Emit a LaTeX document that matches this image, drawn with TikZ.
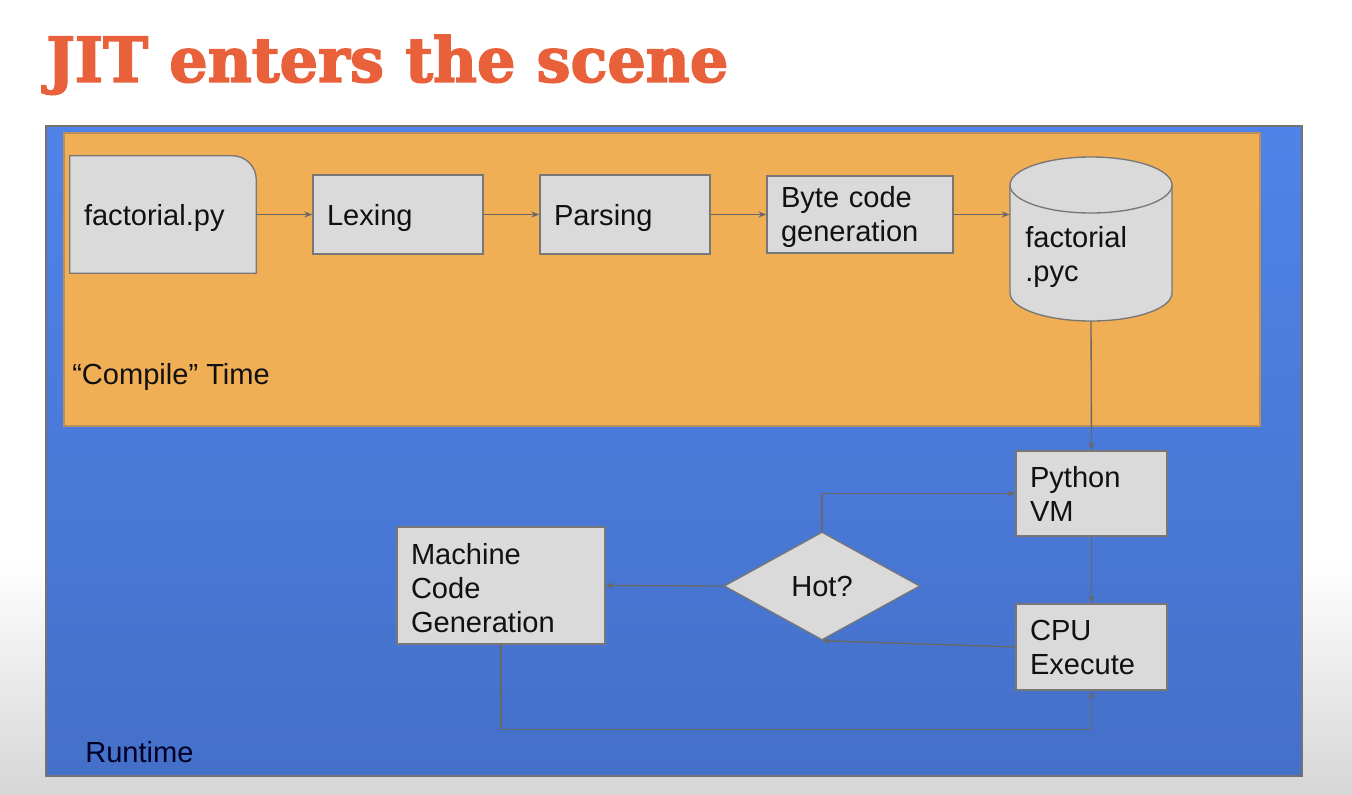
\documentclass[tikz,border=0pt]{standalone}
\usepackage{fontspec}
\setmainfont{Liberation Sans}
\newfontfamily\titlefont{DejaVu Serif}[FakeBold=2.5]
\usetikzlibrary{shapes.geometric,arrows.meta,calc}
\definecolor{titlered}{HTML}{E8613A}
\definecolor{blueA}{HTML}{5083E9}
\definecolor{blueB}{HTML}{4470C8}
\definecolor{orangebg}{HTML}{F0AE55}
\definecolor{orangeedge}{HTML}{B98F5C}
\definecolor{boxfill}{HTML}{DADADA}
\definecolor{boxedge}{HTML}{777777}
\definecolor{linegrey}{HTML}{686868}
\definecolor{ink}{HTML}{111111}
\newcommand\bodysize{\fontsize{21.8pt}{25.5pt}\selectfont}
% a taller first line pushes a text block slightly down in its box
\newcommand\tallstrut{\rule{0pt}{20pt}}
\begin{document}
\begin{tikzpicture}[x=0.75pt,y=-0.75pt,
  line/.style={draw=linegrey, line width=1pt},
  arr/.style={line, -{Stealth[length=6pt,width=4.5pt]}},
  box/.style={draw=boxedge, fill=boxfill, line width=1pt, inner xsep=10.5pt,
    inner ysep=0pt, align=left, font=\bodysize, text=ink},
  oneline/.style={text depth=0pt},
  lbl/.style={anchor=west, inner sep=0pt, font=\bodysize, text=ink, align=left}]

% page and frame
\useasboundingbox (0,0) rectangle (1352,794);
\fill[white] (0,0) rectangle (1352,794);
\shade[top color=white, bottom color=black!16] (0,560) rectangle (1352,794);

\node[anchor=south west, inner sep=0pt, text=titlered] (title) at (46,95)
  {\resizebox{511.5pt}{35.25pt}{\titlefont\bfseries JIT enters the scene}};

% runtime area
\shade[top color=blueA, middle color=blueA, bottom color=blueB] (46,126) rectangle (1302,776);
\draw[draw=black!55, line width=0.8pt] (46,126) rectangle (1302,776);
% compile-time area
\filldraw[fill=orangebg, draw=orangeedge, line width=0.8pt] (64,133) rectangle (1260,426);

\node[lbl] (ctime) at (72,377) {“Compile” Time};
\node[lbl, text=black!85!blue] (rtime) at (85,752) {Runtime};

% source file: a box with its top right corner rounded
\node[minimum width=139.5pt, minimum height=87.75pt, inner sep=0pt] (fpshape) at (163,214.5) {};
\filldraw[fill=boxfill, draw=boxedge, line width=1pt]
  (fpshape.south west) -- (fpshape.north west) -- ($(fpshape.north east)+(-24,0)$)
  .. controls ($(fpshape.north east)+(-10.7,0)$) and ($(fpshape.north east)+(0,10.7)$) ..
  ($(fpshape.north east)+(0,24)$) -- (fpshape.south east) -- cycle;
\node[box, oneline, draw=none, fill=none, text width=118.5pt, minimum width=139.5pt,
  minimum height=87.75pt] (fp) at (fpshape.center) {factorial.py};

% pipeline boxes
\node[box, oneline, text width=106.5pt, minimum width=127.5pt, minimum height=59.25pt] (lx) at (398,214.5) {Lexing};
\node[box, oneline, text width=106.5pt, minimum width=127.5pt, minimum height=59.25pt] (ps) at (625,214.5) {Parsing};
\node[box, text width=118.5pt, minimum width=139.5pt, minimum height=57.75pt] (bc) at (860,214.5) {\tallstrut Byte code\\generation};

% bytecode file (cylinder)
\node[minimum width=121.5pt, minimum height=124.5pt, inner sep=0pt] (pyc) at (1091,238) {};
\fill[boxfill] (1010,185) -- (1010,293) .. controls (1010,308.5) and (1046.3,321) .. (1091,321)
  .. controls (1135.7,321) and (1172,308.5) .. (1172,293) -- (1172,185) -- cycle;
\draw[draw=boxedge, line width=1pt] (1010,185) -- (1010,293) .. controls (1010,308.5) and (1046.3,321) .. (1091,321)
  .. controls (1135.7,321) and (1172,308.5) .. (1172,293) -- (1172,185);
\filldraw[fill=boxfill, draw=boxedge, line width=1pt] (1091,185) ellipse [x radius=81, y radius=28];
\node[lbl] (pyct) at (1025,256.5) {factorial\\.pyc};

% runtime boxes
\node[box, text width=92.25pt, minimum width=113.25pt, minimum height=63.75pt] (vm) at (1091.5,493.5) {Python\\VM};
\node[box, text width=92.25pt, minimum width=113.25pt, minimum height=64.5pt] (cpu) at (1091.5,647) {CPU\\Execute};
\node[box, text width=135pt, minimum width=156pt, minimum height=87.75pt] (mcg) at (501,585.5) {\tallstrut Machine\\Code\\Generation};
\node[diamond, draw=boxedge, fill=boxfill, line width=1pt, inner sep=0pt, font=\bodysize, text=ink,
  minimum width=147pt, minimum height=81pt] (hot) at (822,586) {Hot?};

% connectors
\draw[arr] (fp.east) -- (lx.west);
\draw[arr] (lx.east) -- (ps.west);
\draw[arr] (ps.east) -- (bc.west);
\draw[arr] (bc.east) -- (bc.east -| pyc.west);
\draw[arr] (pyc.south) -- (vm.north);
\draw[arr] (vm.south) -- (cpu.north);
\draw[arr] (hot.north) |- (vm.west);
\draw[arr] (cpu.west) -- (hot.south);
\draw[arr] (hot.west) -- (mcg.east);
\draw[arr] (mcg.south) -- ++(0,85) -| (cpu.south);
\end{tikzpicture}
\end{document}
